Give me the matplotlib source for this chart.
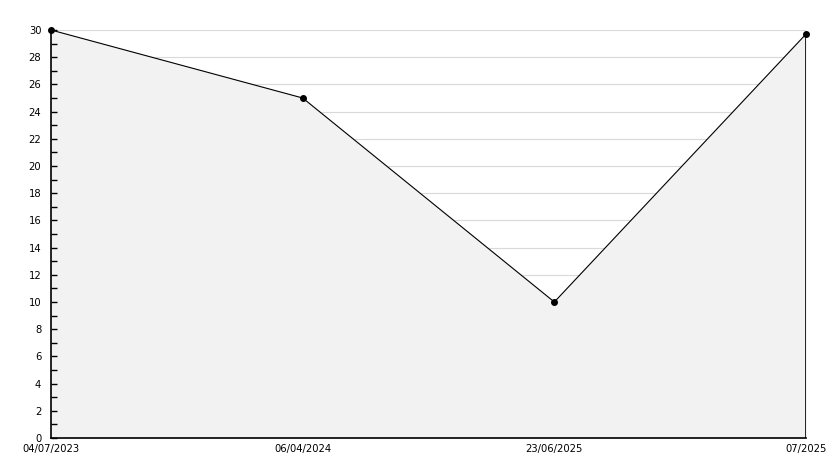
import matplotlib
matplotlib.use("Agg")
import matplotlib.pyplot as plt
from matplotlib.ticker import MultipleLocator

# dados
datas = ["04/07/2023", "06/04/2024", "23/06/2025", "07/2025"]
valores = [30, 25, 10, 29.7]

fig = plt.figure(figsize=(8.34, 4.68), dpi=100)
ax = fig.add_axes([51 / 834, 30 / 468, 755 / 834, 408 / 468])

x = list(range(len(datas)))
for g in range(2, 31, 2):
    ax.axhline(g, color="#d9d9d9", lw=0.8, zorder=0.2)
ax.fill_between(x, valores, 0, color="#f2f2f2", zorder=1)
ax.plot(x, valores, color="black", lw=0.8, marker="o", ms=4, zorder=3,
        clip_on=False)
ax.plot([x[-1], x[-1]], [0, valores[-1]], color="black", lw=1.2, zorder=2)

ax.set_xlim(0, len(datas) - 1)
ax.set_ylim(0, 30)
ax.set_xticks(x)
ax.set_xticklabels(datas, fontsize=7.2)
ax.yaxis.set_major_locator(MultipleLocator(2))
ax.yaxis.set_minor_locator(MultipleLocator(1))
ax.tick_params(axis="y", which="both", direction="in", length=4.5, width=1,
               labelsize=7.2, pad=7)
ax.tick_params(axis="x", direction="in", length=0, labelsize=7.2, pad=4)

for s in ["top", "right"]:
    ax.spines[s].set_visible(False)
ax.spines["left"].set_linewidth(1.2)
ax.spines["bottom"].set_linewidth(1.2)
for s in ax.spines.values():
    s.set_zorder(4)

fig.savefig("out.png", dpi=100)
